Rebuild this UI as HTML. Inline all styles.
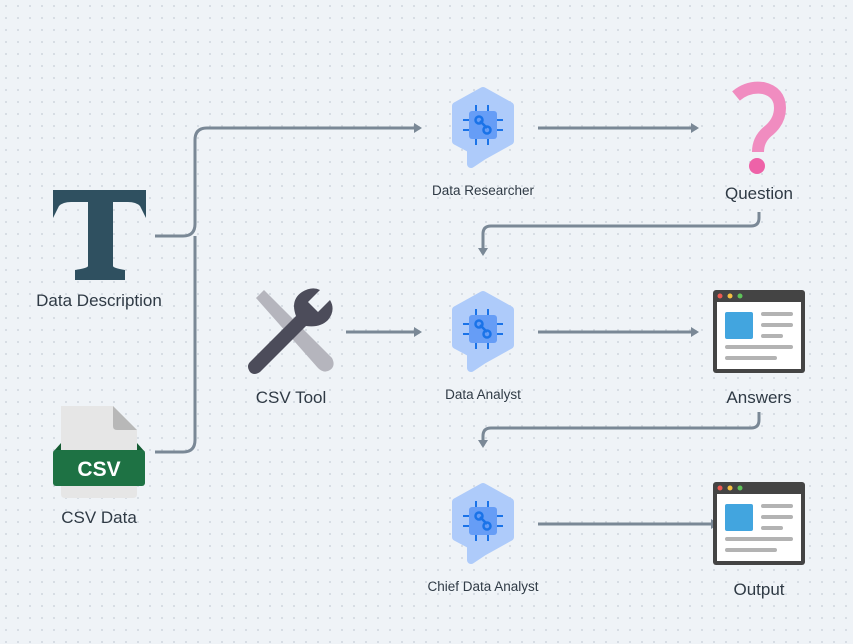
<!DOCTYPE html>
<html><head><meta charset="utf-8"><style>
html,body{margin:0;padding:0;width:853px;height:644px;overflow:hidden;background:#eff3f7}
svg{display:block}
text{font-family:"Liberation Sans",sans-serif;fill:#2f3a45}
</style></head><body>
<svg width="853" height="644" viewBox="0 0 853 644" xmlns="http://www.w3.org/2000/svg">
<defs>
<pattern id="dots" width="12" height="12" patternUnits="userSpaceOnUse" x="5" y="5">
<circle cx="1" cy="1" r="1" fill="#cfd6dd"/></pattern>
<marker id="ar" markerWidth="10" markerHeight="10" refX="6" refY="5" orient="auto" markerUnits="userSpaceOnUse">
<path d="M0,0 L8,5 L0,10 Z" fill="#7a8896"/></marker>
<g id="agent">
<path d="M0,-34 L27,-19 L27,16 L0,31 L-12,39 L-12,24 L-27,16 L-27,-19 Z" fill="#aecbfa" stroke="#aecbfa" stroke-width="8" stroke-linejoin="round"/>
<rect x="-14" y="-14" width="28" height="28" rx="3" fill="#669df6"/>
<g stroke="#1a73e8" stroke-width="2">
<line x1="-7" y1="-20" x2="-7" y2="-14"/><line x1="5" y1="-20" x2="5" y2="-14"/>
<line x1="-7" y1="14" x2="-7" y2="20"/><line x1="5" y1="14" x2="5" y2="20"/>
<line x1="-20" y1="-5" x2="-14" y2="-5"/><line x1="-20" y1="5" x2="-14" y2="5"/>
<line x1="14" y1="-5" x2="20" y2="-5"/><line x1="14" y1="5" x2="20" y2="5"/>
<line x1="-3" y1="-4" x2="4" y2="3" stroke-width="2.5"/>
<circle cx="-4" cy="-5" r="3.5" fill="none" stroke-width="2.5"/>
<circle cx="4" cy="5" r="3.5" fill="none" stroke-width="2.5"/>
</g></g>
<g id="win">
<rect x="0" y="0" width="92" height="83" rx="3" fill="#444"/>
<rect x="4" y="12" width="84" height="67" fill="#fff"/>
<circle cx="7" cy="6" r="2.5" fill="#ee5a52"/><circle cx="17" cy="6" r="2.5" fill="#f5c043"/><circle cx="27" cy="6" r="2.5" fill="#5ec35a"/>
<rect x="12" y="22" width="28" height="27" rx="2" fill="#42a5df"/>
<g stroke="#b3b3b3" stroke-width="4" stroke-linecap="round">
<line x1="50" y1="24" x2="78" y2="24"/><line x1="50" y1="35" x2="78" y2="35"/><line x1="50" y1="46" x2="68" y2="46"/>
<line x1="14" y1="57" x2="78" y2="57"/><line x1="14" y1="68" x2="62" y2="68"/></g>
</g>
</defs>
<rect width="853" height="644" fill="url(#dots)"/>
<g fill="none" stroke="#7a8896" stroke-width="3">
<path d="M155,236 H183 Q195,236 195,224 V140 Q195,128 207,128 H420" marker-end="url(#ar)"/>
<path d="M155,452 H183 Q195,452 195,440 V236"/>
<path d="M538,128 H697" marker-end="url(#ar)"/>
<path d="M759,212 V218 Q759,226 751,226 H491 Q483,226 483,234 V254" marker-end="url(#ar)"/>
<path d="M346,332 H420" marker-end="url(#ar)"/>
<path d="M538,332 H697" marker-end="url(#ar)"/>
<path d="M759,412 V420 Q759,428 751,428 H491 Q483,428 483,436 V446" marker-end="url(#ar)"/>
<path d="M538,524 H717" marker-end="url(#ar)"/>
</g>
<!-- T -->
<path d="M53,190 H146 V218 L140,206 Q136,202 128,202 H113 V266 Q113,268 125,270 V280 H75 V270 Q88,268 88,266 V202 H71 Q63,202 59,206 L53,218 Z" fill="#2f5060"/>
<text x="99" y="306" font-size="17" text-anchor="middle">Data Description</text>
<!-- CSV -->
<path d="M61,406 H113 L137,430 V494 Q137,498 133,498 H65 Q61,498 61,494 Z" fill="#e6e6e6"/>
<path d="M113,406 L137,430 H117 Q113,430 113,426 Z" fill="#b8b8b8"/>
<path d="M53,452 L61,443 V452 Z M145,452 L137,443 V452 Z" fill="#155c33"/>
<rect x="53" y="450" width="92" height="36" rx="3" fill="#1e7244"/>
<text x="99" y="476" font-size="21" font-weight="bold" text-anchor="middle" style="fill:#fff">CSV</text>
<text x="99" y="523" font-size="17" text-anchor="middle">CSV Data</text>
<!-- tools -->
<path d="M256,298 L264,290 L332,358 Q336,366 330,370 Q324,374 318,368 Z" fill="#b5b5bd"/>
<path d="M250,362 L296,316 Q290,300 302,292 Q312,286 320,290 L308,302 L318,312 L330,300 Q336,310 328,320 Q320,328 306,326 L260,372 Q254,376 250,372 Q246,366 250,362 Z" fill="#4c4c5a"/>
<text x="291" y="403" font-size="17" text-anchor="middle">CSV Tool</text>
<!-- agents -->
<use href="#agent" x="483" y="125"/>
<text x="483" y="195" font-size="13.5" text-anchor="middle">Data Researcher</text>
<use href="#agent" x="483" y="329"/>
<text x="483" y="399" font-size="13.5" text-anchor="middle">Data Analyst</text>
<use href="#agent" x="483" y="521"/>
<text x="483" y="591" font-size="13.5" text-anchor="middle">Chief Data Analyst</text>
<!-- question -->
<path d="M736,96 Q748,86 763,88 Q780,92 780,108 Q780,122 767,132 Q758,140 758,152" fill="none" stroke="#f08cc0" stroke-width="12" stroke-linecap="butt"/>
<circle cx="757" cy="166" r="8" fill="#ee62a8"/>
<text x="759" y="199" font-size="17" text-anchor="middle">Question</text>
<use href="#win" x="713" y="290"/>
<text x="759" y="403" font-size="17" text-anchor="middle">Answers</text>
<use href="#win" x="713" y="482"/>
<text x="759" y="595" font-size="17" text-anchor="middle">Output</text>
</svg>
</body></html>
